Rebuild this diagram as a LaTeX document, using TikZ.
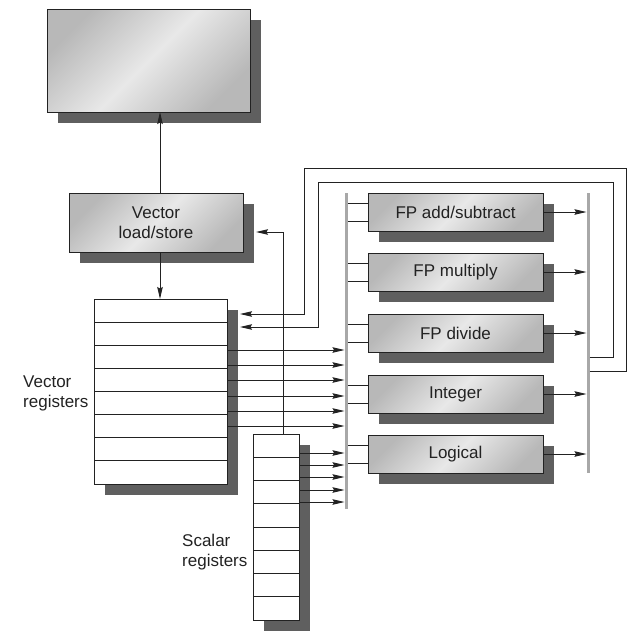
\documentclass[tikz,border=0pt]{standalone}
\usepackage{fontspec}
\setmainfont{Liberation Sans}
\usetikzlibrary{arrows.meta,shadows,calc}
\definecolor{boxdark}{HTML}{B8B8B8}
\definecolor{boxlight}{HTML}{E8E8E8}
\definecolor{shadowgray}{HTML}{5F5F5F}
\definecolor{busgray}{HTML}{A8A8A8}
\definecolor{linegray}{HTML}{222222}
\begin{document}
\begin{tikzpicture}[x=1pt,y=-1pt,
  font=\fontsize{17}{20}\selectfont, text=linegray,
  boxshadow/.style={general shadow={fill=shadowgray, shadow xshift=11pt, shadow yshift=-11pt}},
  shadedbox/.style={boxshadow, draw=linegray, line width=0.9pt, top color=boxdark, bottom color=boxdark, middle color=boxlight, shading angle=45, inner sep=0pt, outer sep=0pt, anchor=north west, align=center},
  regbox/.style={boxshadow, draw=linegray, line width=0.9pt, fill=white, inner sep=0pt, outer sep=0pt, anchor=north west},
  unit/.style={shadedbox, minimum width=175pt, minimum height=38pt},
  bus/.style={draw=none, fill=busgray, minimum width=3pt, inner sep=0pt, outer sep=0pt, anchor=north},
  arr/.style={-{Stealth[length=12pt,width=5.5pt,inset=1.5pt]}, line width=0.9pt, draw=linegray},
  wire/.style={line width=0.9pt, draw=linegray},
  lab/.style={anchor=west, align=left, inner sep=0pt}
]
\useasboundingbox (0,0) rectangle (641,643);

% boxes
\node[shadedbox, minimum width=203pt, minimum height=103pt] (mem) at (47,9) {};
\node[shadedbox, minimum width=174pt, minimum height=59pt] (ls) at (69,193) {Vector\\load/store};
\node[regbox, minimum width=133pt, minimum height=185pt] (vr) at (94,299) {};
\node[regbox, minimum width=46pt, minimum height=186pt] (sr) at (253,434) {};

\foreach \k in {1,...,7} {
  \draw[wire] ($(vr.north west)!\k/8!(vr.south west)$) -- ($(vr.north east)!\k/8!(vr.south east)$);
  \draw[wire] ($(sr.north west)!\k/8!(sr.south west)$) -- ($(sr.north east)!\k/8!(sr.south east)$);
}

% buses
\node[bus, minimum height=316pt] (busL) at (346,193) {};
\node[bus, minimum height=280pt] (busR) at (588,193) {};

% functional units
\node[unit] (u1) at (368,193) {FP add/subtract};
\node[unit] (u2) at (368,253) {FP multiply};
\node[unit] (u3) at (368,314) {FP divide};
\node[unit] (u4) at (368,375) {Integer};
\node[unit] (u5) at (368,435) {Logical};

% shadow edges
\coordinate (vrsh) at ([xshift=13pt]vr.east);
\coordinate (lssh) at ([xshift=13pt]ls.east);

% unit connections
\foreach \u in {u1,u2,u3,u4,u5} {
  \coordinate (a) at ([yshift=9pt]\u.west);
  \coordinate (b) at ([yshift=-9pt]\u.west);
  \draw[wire] (a) -- (a -| busL.east);
  \draw[wire] (b) -- (b -| busL.east);
  \draw[arr] (\u.east) -- (\u.east -| busR.west);
}

% vector registers to bus
\foreach \y in {350,365,380,396,411,426}
  \draw[arr] (vr.east |- 0,\y) -- (busL.west |- 0,\y);
% scalar registers to bus
\foreach \y in {453,465,477,490,502}
  \draw[arr] (sr.east |- 0,\y) -- (busL.west |- 0,\y);

% feedback loops
\draw[arr] (busR.east |- 0,371) -- (626,371) -- (626,168) -- (304,168) -- (304,314) -- (vrsh |- 0,314);
\draw[arr] (busR.east |- 0,357) -- (613,357) -- (613,182) -- (318,182) -- (318,327) -- (vrsh |- 0,327);

% scalar to load/store
\draw[arr] (283,0 |- sr.north) -- (283,232) -- (lssh |- 0,232);

% load/store to memory and registers
\draw[arr] (160,0 |- ls.north) -- (160,0 |- mem.south);
\draw[arr] (160,0 |- ls.south) -- (160,0 |- vr.north);

% labels
\node[lab] (vlab) at (23,393) {Vector\\registers};
\node[lab] (slab) at (182,552) {Scalar\\registers};
\end{tikzpicture}
\end{document}
